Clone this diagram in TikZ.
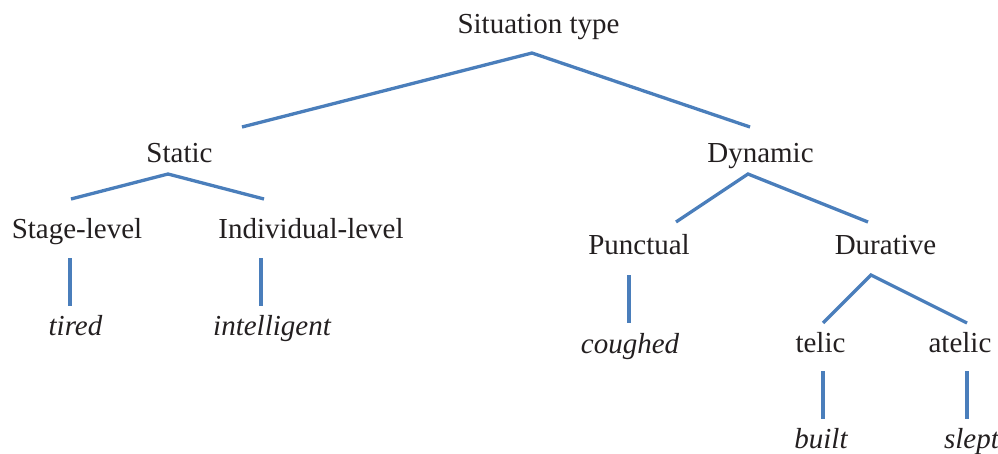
\documentclass[tikz,border=0pt]{standalone}
\usepackage{fontspec}
\setmainfont{Liberation Serif}
\usepackage{tikz}
\usetikzlibrary{positioning}
\definecolor{branch}{RGB}{74,126,187}
\definecolor{ink}{RGB}{35,31,32}
\newcommand{\tsize}{\fontsize{29}{35}\selectfont}

\begin{document}
\begin{tikzpicture}[x=1pt,y=-1pt,
        label/.style={anchor=base, inner sep=0pt, text=ink, font=\tsize},
        leaf/.style={label, font=\tsize\itshape},
        edge/.style={draw=branch, line width=3.3pt}]
        \useasboundingbox (0,0) rectangle (998,453);

        \node[label] (sit) at (538.5,33) {Situation type};
        \node[label] (static) at (179.5,162) {Static};
        \node[label] (dynamic) at (760.5,162) {Dynamic};
        \node[label] (stage) at (77,238) {Stage-level};
        \node[label] (indiv) at (311,238) {Individual-level};
        \node[label] (punct) at (639,254) {Punctual};
        \node[label] (durat) at (885.5,254) {Durative};
        \node[label] (telic) at (820.5,352) {telic};
        \node[label] (atelic) at (960,352) {atelic};

        \node[leaf] (tired) at (75.5,335) {tired};
        \node[leaf] (intel) at (272,335) {intelligent};
        \node[leaf] (cough) at (630,353) {coughed};
        \node[leaf] (built) at (821,448) {built};
        \node[leaf] (slept) at (971.5,448) {slept};

        % joints of the tree
        \coordinate (sitT) at (532,53);
        \coordinate (staticB) at (242,127);
        \coordinate (dynamicB) at (750,127);
        \coordinate (staticT) at (168,174);
        \coordinate (stageB) at (71,199);
        \coordinate (indivB) at (264,199);
        \coordinate (dynamicT) at (748,174);
        \coordinate (punctB) at (676,222);
        \coordinate (duratB) at (868,222);
        \coordinate (duratT) at (871,275);
        \coordinate (telicB) at (823,323);
        \coordinate (atelicB) at (967,323);

        \coordinate (stageT) at (70,258);
        \coordinate (tiredB) at (70,306);
        \coordinate (indivT) at (261,258);
        \coordinate (intelB) at (261,306);
        \coordinate (punctT) at (629,275);
        \coordinate (coughB) at (629,323);
        \coordinate (telicT) at (823,371);
        \coordinate (builtB) at (823,419);
        \coordinate (atelicT) at (967,371);
        \coordinate (sleptB) at (967,419);

        \draw[edge] (staticB) -- (sitT) -- (dynamicB);
        \draw[edge] (stageB) -- (staticT) -- (indivB);
        \draw[edge] (punctB) -- (dynamicT) -- (duratB);
        \draw[edge] (telicB) -- (duratT) -- (atelicB);

        \draw[edge] (stageT) -- (tiredB);
        \draw[edge] (indivT) -- (intelB);
        \draw[edge] (punctT) -- (coughB);
        \draw[edge] (telicT) -- (builtB);
        \draw[edge] (atelicT) -- (sleptB);
\end{tikzpicture}
\end{document}
